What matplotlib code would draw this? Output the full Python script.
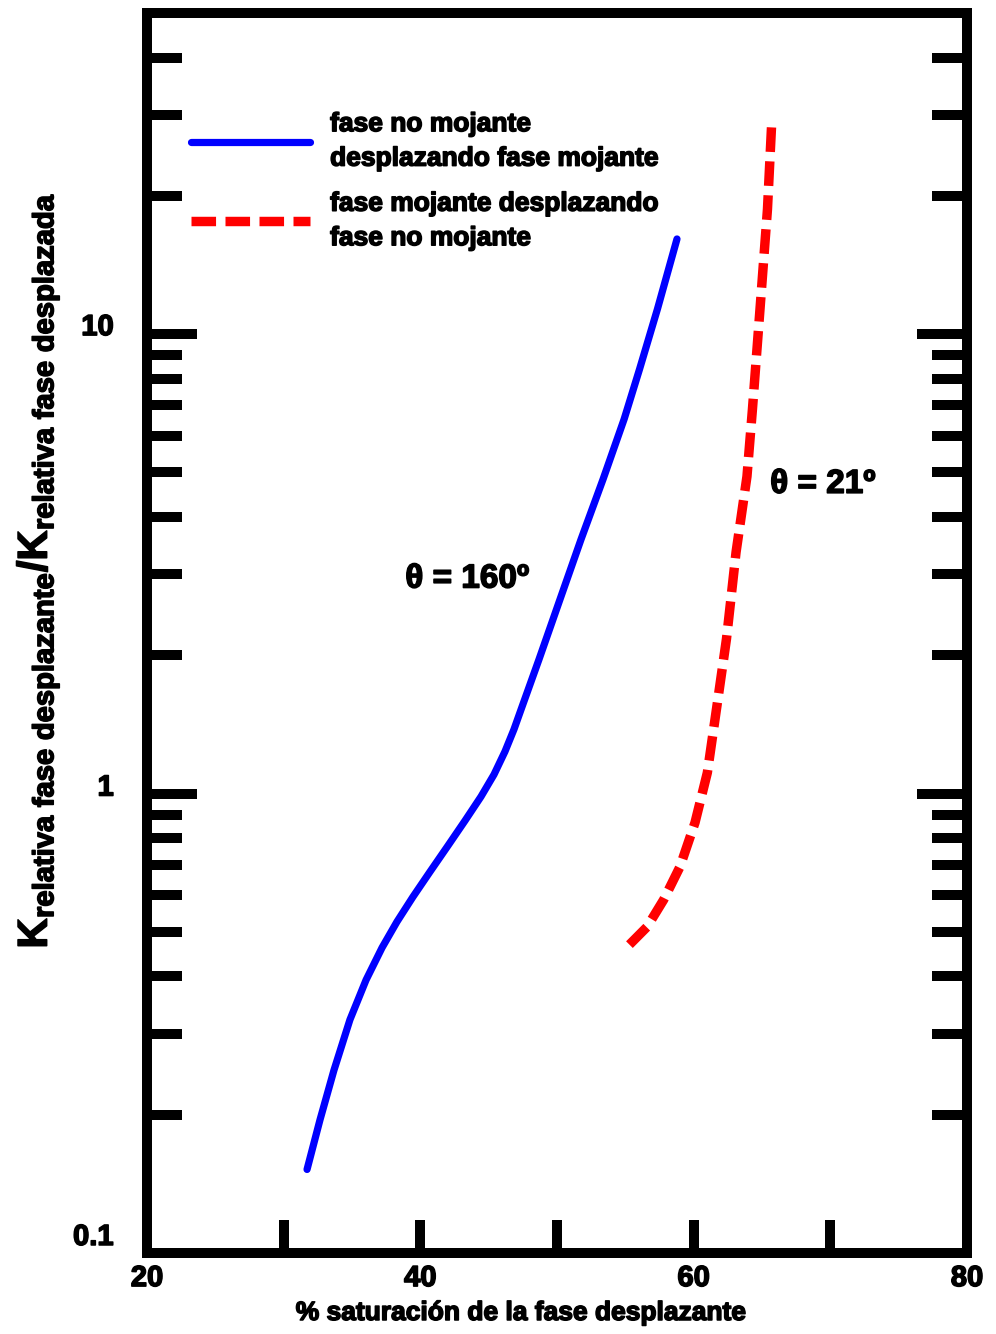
import matplotlib
matplotlib.use("Agg")
import matplotlib.pyplot as plt
import matplotlib.patheffects as pe
from matplotlib.transforms import ScaledTranslation
from matplotlib.ticker import FixedLocator, NullFormatter, FixedFormatter

plt.rcParams['font.family'] = ['Liberation Sans', 'DejaVu Sans']
plt.rcParams['font.weight'] = 'bold'
plt.rcParams['mathtext.fontset'] = 'custom'
plt.rcParams['mathtext.rm'] = 'Liberation Sans:bold'
plt.rcParams['mathtext.it'] = 'Liberation Sans:bold'
plt.rcParams['mathtext.bf'] = 'Liberation Sans:bold'
plt.rcParams['mathtext.sf'] = 'Liberation Sans:bold'

# Non-wetting phase displacing wetting phase (theta = 160)
sat_nw = [31.71, 32.66, 33.68, 34.85, 36.03, 37.20, 38.29, 39.46, 40.71, 42.02,
          43.27, 44.44, 45.39, 46.19, 46.85, 47.37, 48.68, 50.22, 51.76, 53.37,
          54.91, 56.04, 57.35, 58.78]
ratio_nw = [0.152, 0.195, 0.250, 0.322, 0.393, 0.462, 0.526, 0.596, 0.676, 0.770,
            0.873, 0.985, 1.100, 1.234, 1.379, 1.524, 1.958, 2.647, 3.576, 4.832,
            6.528, 8.389, 11.34, 16.11]

# Wetting phase displacing non-wetting phase (theta = 21)
sat_w = [55.3, 56.6, 57.8, 59.0, 60.1, 61.0, 61.7, 62.4, 63.1, 63.9,
         64.3, 64.85, 65.4, 65.7]
ratio_w = [0.469, 0.513, 0.587, 0.693, 0.865, 1.11, 1.55, 2.17, 3.35, 4.90,
           6.86, 11.3, 18.7, 28.4]

label_nw = "fase no mojante\ndesplazando fase mojante"
label_w = "fase mojante desplazando\nfase no mojante"
x_ticks_major = [20, 40, 60, 80]
x_ticks_minor = [30, 50, 70]
y_ticks_major = [0.1, 1, 10]
y_tick_labels = ["0.1", "1", "10"]
y_ticks_minor = [k * d for d in (0.1, 1, 10) for k in range(2, 10) if k * d < 50]

heavy = [pe.withStroke(linewidth=1.1, foreground='black')]

fig = plt.figure(figsize=(9.96, 13.34), dpi=100)
ax = fig.add_axes([147 / 996, 1 - 1253 / 1334, 820 / 996, 1240 / 1334])

ax.plot(sat_nw, ratio_nw, color='#0000ff', lw=5.2, solid_capstyle='round',
        solid_joinstyle='round', label=label_nw)
ax.plot(sat_w, ratio_w, color='#ff0000', lw=6.8, linestyle=(0, (2.6, 1.0)),
        dash_capstyle='butt', dash_joinstyle='round', label=label_w)

ax.set_yscale('log')
ax.set_xlim(20, 80)
ax.set_ylim(0.1, 50)

for s in ax.spines.values():
    s.set_linewidth(7.2)

ax.xaxis.set_major_locator(FixedLocator(x_ticks_major))
ax.xaxis.set_minor_locator(FixedLocator(x_ticks_minor))
ax.xaxis.set_major_formatter(FixedFormatter([str(v) for v in x_ticks_major]))
ax.xaxis.set_minor_formatter(NullFormatter())
ax.yaxis.set_major_locator(FixedLocator(y_ticks_major))
ax.yaxis.set_major_formatter(FixedFormatter(y_tick_labels))
ax.yaxis.set_minor_locator(FixedLocator(y_ticks_minor))
ax.yaxis.set_minor_formatter(NullFormatter())

ax.tick_params(axis='x', which='both', direction='in', length=24, width=7.2,
               top=False, bottom=True, labelsize=21, pad=8)
ax.tick_params(axis='y', which='major', direction='in', length=36, width=7.2,
               left=True, right=True, labelsize=21, pad=24)
ax.tick_params(axis='y', which='minor', direction='in', length=25, width=7.2,
               left=True, right=True)

for tick in ax.xaxis.get_major_ticks():
    tick.label1.set_fontweight('bold')
    tick.label1.set_path_effects(heavy)
y_offsets = [0.19, 0.09, 0.10]
for tick, dy in zip(ax.yaxis.get_major_ticks(), y_offsets):
    tick.label1.set_fontweight('bold')
    tick.label1.set_path_effects(heavy)
    tick.label1.set_transform(tick.label1.get_transform()
                              + ScaledTranslation(0, dy, fig.dpi_scale_trans))

leg = ax.legend(loc='upper left', bbox_to_anchor=(0.054, 0.920), frameon=False,
                fontsize=19, handlelength=4.5, handletextpad=0.76,
                borderpad=0, borderaxespad=0, labelspacing=0.8)
for t in leg.get_texts():
    t.set_linespacing(1.55)
    t.set_fontweight('bold')
    t.set_path_effects(heavy)

ax.text(38.9, 2.93, "θ = 160º", fontsize=24, fontweight='bold',
        ha='left', va='center', path_effects=heavy)
ax.text(65.6, 4.71, "θ = 21º", fontsize=24, fontweight='bold',
        ha='left', va='center', path_effects=heavy)

fig.text(521 / 996, 1 - 1313 / 1334, "% saturación de la fase desplazante",
         fontsize=19, fontweight='bold', ha='center', va='center',
         path_effects=heavy)
fig.text(38 / 996, 1 - 571 / 1334,
         r'$\mathrm{K_{relativa\ fase\ desplazante}/K_{relativa\ fase\ desplazada}}$',
         fontsize=30, rotation=90, ha='center', va='center', path_effects=heavy)

fig.savefig("out.png", dpi=100)
